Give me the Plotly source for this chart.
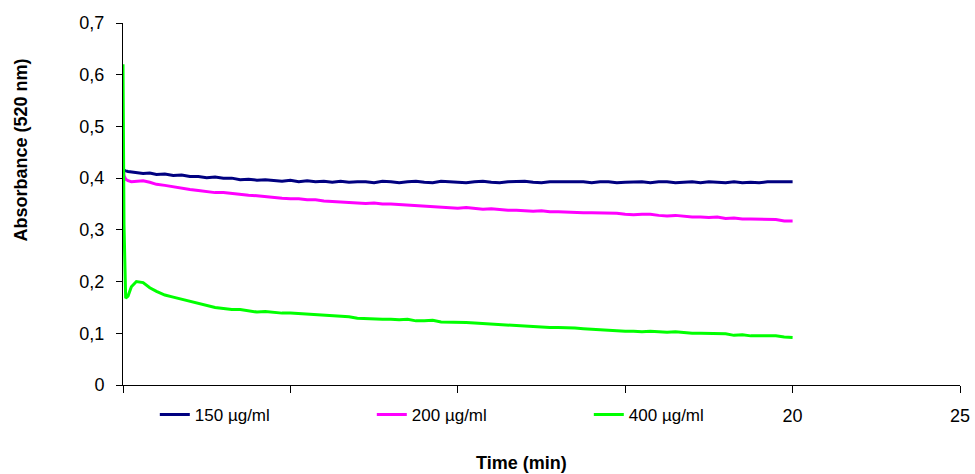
import plotly.graph_objects as go

time_min = [0, 0.03, 0.08, 0.15, 0.25, 0.4, 0.6, 0.8, 1.0,
            1.25, 1.5, 1.75, 2.0, 2.25, 2.5, 2.75, 3.0, 3.25, 3.5, 3.75, 4.0,
            4.25, 4.5, 4.75, 5.0, 5.25, 5.5, 5.75, 6.0, 6.25, 6.5, 6.75, 7.0,
            7.25, 7.5, 7.75, 8.0, 8.25, 8.5, 8.75, 9.0, 9.25, 9.5, 9.75, 10.0,
            10.25, 10.5, 10.75, 11.0, 11.25, 11.5, 11.75, 12.0, 12.25, 12.5, 12.75, 13.0,
            13.25, 13.5, 13.75, 14.0, 14.25, 14.5, 14.75, 15.0, 15.25, 15.5, 15.75, 16.0,
            16.25, 16.5, 16.75, 17.0, 17.25, 17.5, 17.75, 18.0, 18.25, 18.5, 18.75, 19.0,
            19.25, 19.5, 19.75, 20.0]

abs_150 = [0.416, 0.415, 0.414, 0.413, 0.412, 0.411, 0.409, 0.410, 0.407,
           0.408, 0.405, 0.406, 0.403, 0.403, 0.401, 0.402, 0.400, 0.400, 0.397, 0.398, 0.396,
           0.397, 0.395, 0.394, 0.396, 0.393, 0.395, 0.393, 0.394, 0.392, 0.394, 0.392, 0.393,
           0.393, 0.391, 0.394, 0.393, 0.391, 0.393, 0.394, 0.392, 0.391, 0.394, 0.393, 0.393,
           0.391, 0.393, 0.394, 0.392, 0.391, 0.393, 0.393, 0.394, 0.392, 0.391, 0.393, 0.393,
           0.392, 0.393, 0.393, 0.391, 0.393, 0.393, 0.391, 0.392, 0.393, 0.393, 0.391, 0.393,
           0.393, 0.391, 0.392, 0.393, 0.391, 0.393, 0.392, 0.391, 0.393, 0.391, 0.392, 0.391,
           0.393, 0.393, 0.393, 0.393]

abs_200 = [0.423, 0.405, 0.398, 0.395, 0.393, 0.394, 0.395, 0.392, 0.388,
           0.386, 0.383, 0.381, 0.378, 0.376, 0.374, 0.372, 0.372, 0.370, 0.368, 0.367, 0.366,
           0.364, 0.362, 0.361, 0.360, 0.360, 0.358, 0.358, 0.356, 0.355, 0.354, 0.353, 0.352,
           0.351, 0.352, 0.350, 0.350, 0.349, 0.349, 0.347, 0.346, 0.345, 0.344, 0.343, 0.342,
           0.343, 0.341, 0.340, 0.341, 0.339, 0.338, 0.338, 0.337, 0.336, 0.337, 0.335, 0.335,
           0.334, 0.334, 0.333, 0.333, 0.333, 0.333, 0.332, 0.330, 0.329, 0.330, 0.330, 0.328,
           0.327, 0.328, 0.326, 0.325, 0.325, 0.324, 0.325, 0.322, 0.323, 0.321, 0.321, 0.321,
           0.321, 0.320, 0.317, 0.317]

abs_400 = [0.620, 0.310, 0.168, 0.172, 0.190, 0.200, 0.198, 0.188, 0.181,
           0.174, 0.170, 0.166, 0.162, 0.158, 0.154, 0.150, 0.148, 0.146, 0.146, 0.143, 0.141,
           0.142, 0.140, 0.139, 0.139, 0.138, 0.137, 0.136, 0.134, 0.134, 0.133, 0.132, 0.129,
           0.128, 0.128, 0.127, 0.127, 0.126, 0.127, 0.124, 0.124, 0.125, 0.122, 0.122, 0.121,
           0.121, 0.120, 0.119, 0.117, 0.117, 0.116, 0.115, 0.113, 0.112, 0.112, 0.111, 0.111,
           0.111, 0.110, 0.109, 0.108, 0.107, 0.105, 0.104, 0.104, 0.104, 0.103, 0.104, 0.103,
           0.102, 0.103, 0.101, 0.100, 0.100, 0.100, 0.100, 0.099, 0.096, 0.097, 0.095, 0.095,
           0.094, 0.095, 0.093, 0.092]

series_names = ["150 µg/ml", "200 µg/ml", "400 µg/ml"]
series_colors = ["#000080", "#FF00FF", "#00FF00"]

x_tickvals = [0, 5, 10, 15, 20, 25]
x_ticktext = ["", "", "", "", "20", "25"]
y_tickvals = [0, 0.1, 0.2, 0.3, 0.4, 0.5, 0.6, 0.7]

FONT = "Liberation Sans, Arial, sans-serif"

fig = go.Figure()
for name, ys, col in zip(series_names, [abs_150, abs_200, abs_400], series_colors):
    fig.add_trace(go.Scatter(x=time_min, y=ys, mode="lines", name=name,
                             line=dict(color=col, width=3)))

fig.update_layout(
    width=975, height=474,
    margin=dict(l=123, r=15, t=23, b=89, autoexpand=False),
    paper_bgcolor="white", plot_bgcolor="white",
    separators=", ",
    font=dict(family=FONT, color="black", size=16),
    showlegend=True,
    legend=dict(orientation="h", x=0.038, xanchor="left", y=-0.083, yanchor="middle",
                bgcolor="rgba(0,0,0,0)", font=dict(size=17, family=FONT),
                entrywidth=172, entrywidthmode="pixels", itemwidth=30,
                traceorder="normal"),
    xaxis=dict(range=[0, 25], tickvals=x_tickvals, ticktext=x_ticktext,
               showgrid=False, zeroline=False, showline=True, linecolor="black",
               linewidth=1, ticks="outside", ticklen=7, tickcolor="black", automargin=False,
               tickfont=dict(size=18, family=FONT), ticklabelstandoff=7),
    yaxis=dict(range=[0, 0.7], tickvals=y_tickvals,
               showgrid=False, zeroline=False, showline=True, linecolor="black",
               linewidth=1, ticks="outside", ticklen=6, tickcolor="black", automargin=False,
               tickfont=dict(size=18, family=FONT), ticklabelstandoff=8),
    annotations=[
        dict(text="<b>Time (min)</b>", xref="paper", yref="paper",
             x=0.476, y=-0.215, xanchor="center", yanchor="middle",
             showarrow=False, font=dict(size=18, family=FONT)),
        dict(text="<b>Absorbance (520 nm)</b>", xref="paper", yref="paper",
             x=-0.122, y=0.65, xanchor="center", yanchor="middle", textangle=-90,
             showarrow=False, font=dict(size=18, family=FONT)),
    ],
)

fig.write_html("out.html", config={"displayModeBar": False},
               post_script="document.body.style.margin='0';")
